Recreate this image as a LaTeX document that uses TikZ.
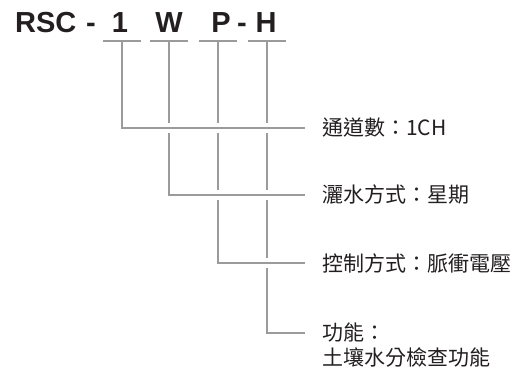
\documentclass[tikz,border=0pt]{standalone}
\usepackage{fontspec}
\setmainfont{Liberation Sans}
\newfontfamily\cjkfont{Noto Sans CJK TC}
\usetikzlibrary{positioning}

\begin{document}
\begin{tikzpicture}[x=1pt,y=-1pt]
% Model-code key: each letter of the code drops a line to its meaning.
\definecolor{ink}{RGB}{35,31,32}
\definecolor{rule}{RGB}{155,155,155}
\tikzset{
  code/.style={font=\bfseries\fontsize{29}{29}\selectfont, text=ink, inner sep=0, anchor=base},
  lab/.style={font=\cjkfont\fontsize{21}{21}\selectfont, text=ink, inner sep=0, anchor=west},
  conn/.style={rule, line width=1.5pt},
  halo/.style={white, line width=10pt}
}
\useasboundingbox (0,0) rectangle (526,374);
\node[code, anchor=base west] (rsc) at (15,33) {RSC};
\node[code] (d1) at (91,33) {-};
\node[code] (c1) at (120,33) {1};
\node[code] (cW) at (169,33) {W};
\node[code] (cP) at (221,33) {P};
\node[code] (d2) at (242,33) {-};
\node[code] (cH) at (266,33) {H};
\foreach \n/\x in {1/122, W/169, P/218, H/267} {
  \coordinate (b\n) at (\x,41);
  \draw[conn] (\x-19,41) -- (\x+19,41);
}
\node[lab] (l1) at (322,128) {通道數：1CH};
\node[lab] (lW) at (322,195) {灑水方式：星期};
\node[lab] (lP) at (322,263) {控制方式：脈衝電壓};
\node[lab] (lH) at (322,333) {功能：};
\node[lab, below=5pt of lH.south west, anchor=north west] (lHb) {土壤水分檢查功能};
% later lines break the ones already drawn
\foreach \n in {H,P,W,1} {
  \draw[halo] ([xshift=8pt]b\n |- l\n.west) -- ([xshift=-17pt]l\n.west);
  \draw[conn] (b\n) |- ([xshift=-17pt]l\n.west);
}
\end{tikzpicture}
\end{document}
